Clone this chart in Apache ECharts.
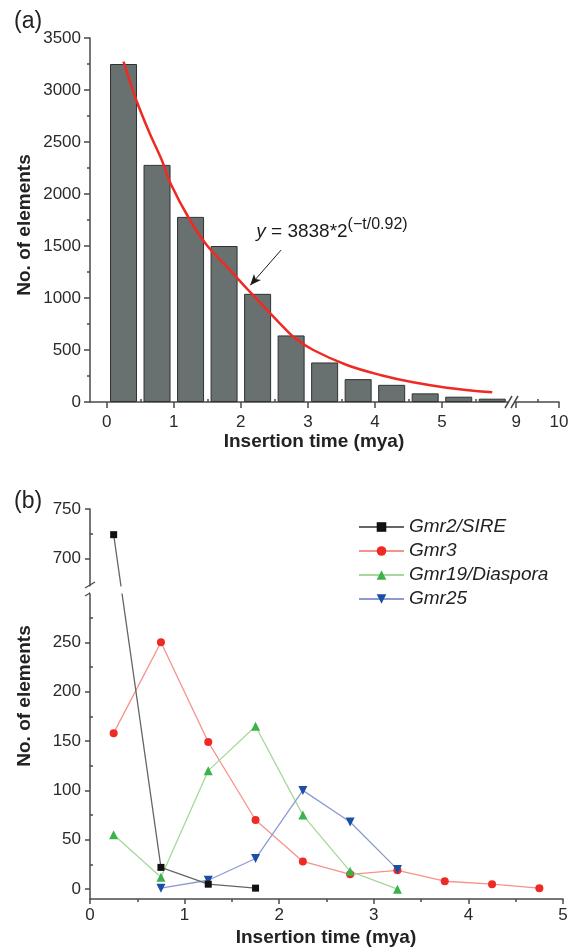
<!DOCTYPE html>
<html><head><meta charset="utf-8">
<script src="https://cdn.jsdelivr.net/npm/echarts@6/dist/echarts.min.js"></script>
<style>html,body{margin:0;padding:0;background:#fff}#c{width:574px;height:950px}</style>
</head><body><div id="c"></div>
<script>
// ---------- Panel (a) data ----------
const binCenters = [0.25, 0.75, 1.25, 1.75, 2.25, 2.75, 3.25, 3.75, 4.25, 4.75, 5.25, 5.75];
const elementCounts = [3250, 2280, 1780, 1500, 1040, 640, 380, 220, 165, 83, 51, 32];
// fitted curve, points
const fitT = [0.25, 0.44, 0.64, 0.82, 0.95, 1.24, 1.49, 1.79, 2.11, 2.58, 2.81, 3.08, 3.58, 4.08, 4.57, 5.07, 5.75];
const fitY = [3272, 2904, 2584, 2327, 2103, 1750, 1510, 1301, 1077, 757, 612, 500, 356, 260, 189, 138, 93];
const aXTicks = [0, 1, 2, 3, 4, 5];
const aXMinorTicks = [0.5, 1.5, 2.5, 3.5, 4.5, 5.5];
const aXTicksAfterBreak = [9, 10];
const aXMinorAfterBreak = [9.5];
const equationText = ' = 3838*2';
const equationExp = '(\u2212t/0.92)';

// ---------- Panel (b) data ----------
const gmr2T = [0.25, 0.75, 1.25, 1.75];
const gmr2 = [724, 22, 5, 1];
const gmr3T = [0.25, 0.75, 1.25, 1.75, 2.25, 2.75, 3.25, 3.75, 4.25, 4.75];
const gmr3 = [158, 250, 149, 70, 28, 15, 19, 8, 5, 1];
const gmr19T = [0.25, 0.75, 1.25, 1.75, 2.25, 2.75, 3.25];
const gmr19 = [55, 12, 120, 165, 75, 18, 0];
const gmr25T = [0.75, 1.25, 1.75, 2.25, 2.75, 3.25];
const gmr25 = [1, 9, 31, 100, 68, 20];
const bYTicks = [0, 50, 100, 150, 200, 250, 700, 750];
const bYMinorTicks = [25, 75, 125, 175, 225, 275, 725];
const seriesNames = ['Gmr2/SIRE', 'Gmr3', 'Gmr19/Diaspora', 'Gmr25'];

const zip = (a, b) => a.map((v, i) => [v, b[i]]);
const FONT = '"Liberation Sans", Arial, sans-serif';
const AX = '#4a4a4a';
const LBL = '#2a2a2a';
const plain = v => String(v);

const axisLine = { show: true, onZero: false, lineStyle: { color: AX, width: 1.5 } };
const tickStyle = { color: AX, width: 1.5 };

const chart = echarts.init(document.getElementById('c'), null, { renderer: 'canvas' });

const option = {
  animation: false,
  backgroundColor: '#fff',
  textStyle: { fontFamily: FONT },
  grid: [
    { left: 90, top: 38, width: 419, height: 364, containLabel: false },
    { left: 514, top: 38, width: 45, height: 364, containLabel: false },
    { left: 90, top: 509, width: 473, height: 390, containLabel: false }
  ],
  xAxis: [
    { gridIndex: 0, type: 'value', min: -0.25, max: 6, axisLine,
      axisTick: { show: true, inside: false, length: 6, lineStyle: tickStyle, customValues: aXTicks },
      axisLabel: { show: true, customValues: aXTicks, fontSize: 17, color: LBL, margin: 12, fontFamily: FONT, formatter: plain },
      splitLine: { show: false } },
    { gridIndex: 0, type: 'value', min: -0.25, max: 6, axisLine: { show: false },
      axisTick: { show: true, inside: false, length: 3, lineStyle: tickStyle, customValues: aXMinorTicks },
      axisLabel: { show: false }, splitLine: { show: false } },
    { gridIndex: 1, type: 'value', min: 8.95, max: 10, axisLine,
      axisTick: { show: true, inside: false, length: 6, lineStyle: tickStyle, customValues: aXTicksAfterBreak },
      axisLabel: { show: true, customValues: aXTicksAfterBreak, fontSize: 17, color: LBL, margin: 12, fontFamily: FONT, formatter: plain },
      splitLine: { show: false } },
    { gridIndex: 1, type: 'value', min: 8.95, max: 10, axisLine: { show: false },
      axisTick: { show: true, inside: false, length: 3, lineStyle: tickStyle, customValues: aXMinorAfterBreak },
      axisLabel: { show: false }, splitLine: { show: false } },
    { gridIndex: 2, type: 'value', min: 0, max: 5, interval: 1, axisLine,
      axisTick: { show: true, inside: false, length: 5, lineStyle: tickStyle },
      minorTick: { show: true, splitNumber: 2, length: 3, lineStyle: tickStyle },
      axisLabel: { show: true, fontSize: 17, color: LBL, margin: 8, fontFamily: FONT, formatter: plain },
      splitLine: { show: false } }
  ],
  yAxis: [
    { gridIndex: 0, type: 'value', min: 0, max: 3500, interval: 500, axisLine,
      axisTick: { show: true, inside: false, length: 6, lineStyle: tickStyle },
      minorTick: { show: true, splitNumber: 2, length: 3, lineStyle: tickStyle },
      axisLabel: { fontSize: 17, color: LBL, margin: 9, fontFamily: FONT, formatter: plain },
      splitLine: { show: false } },
    { gridIndex: 1, type: 'value', min: 0, max: 3500, show: false },
    { gridIndex: 2, type: 'value', min: -10, max: 750, axisLine,
      breaks: [{ start: 300, end: 672, gap: 7 }],
      breakArea: { show: true, itemStyle: { color: '#fff', borderColor: '#fff', borderWidth: 0, opacity: 1 }, zigzagAmplitude: 0, expandOnClick: false },
      axisTick: { show: true, inside: false, length: 5, lineStyle: tickStyle, customValues: bYTicks },
      axisLabel: { show: true, customValues: bYTicks, fontSize: 17, color: LBL, margin: 9, fontFamily: FONT, formatter: plain },
      splitLine: { show: false } },
    { gridIndex: 2, type: 'value', min: -10, max: 750, axisLine: { show: false },
      breaks: [{ start: 300, end: 672, gap: 7 }],
      breakArea: { show: false },
      axisTick: { show: true, inside: false, length: 3, lineStyle: tickStyle, customValues: bYMinorTicks },
      axisLabel: { show: false }, splitLine: { show: false } }
  ],
  legend: {
    orient: 'vertical', left: 358, top: 517, z: 300, padding: 0,
    itemWidth: 45, itemHeight: 12, itemGap: 4,
    textStyle: { fontSize: 19, fontStyle: 'italic', color: '#222', fontFamily: FONT, lineHeight: 20 },
    data: seriesNames
  },
  series: [
    { type: 'bar', xAxisIndex: 0, yAxisIndex: 0, barWidth: 27, data: zip(binCenters, elementCounts),
      itemStyle: { color: '#68716f', borderColor: '#2e3333', borderWidth: 1 }, z: 2 },
    { type: 'line', xAxisIndex: 0, yAxisIndex: 0, smooth: 0.35, showSymbol: false, data: zip(fitT, fitY),
      lineStyle: { color: '#ee2a22', width: 2.5 }, z: 3,
      markLine: { silent: true, symbol: ['none', 'arrow'], symbolSize: [7, 11], label: { show: false },
        lineStyle: { color: '#1a1a1a', width: 1, type: 'solid' },
        data: [[{ coord: [2.6, 1461] }, { coord: [2.14, 1122] }]] },
      markPoint: { silent: true, symbol: 'circle', symbolSize: 0,
        data: [{ coord: [2.17, 1640],
          label: { show: true, position: 'right', distance: 4, color: '#1a1a1a', fontFamily: FONT,
            formatter: '{i|y}{m|' + equationText + '}{s|' + equationExp + '}',
            rich: {
              i: { fontSize: 19, fontStyle: 'italic', fontFamily: FONT, color: '#1a1a1a' },
              m: { fontSize: 19, fontFamily: FONT, color: '#1a1a1a' },
              s: { fontSize: 16, fontFamily: FONT, color: '#1a1a1a', padding: [0, 0, 14, 0] }
            } } }] } },
    { name: seriesNames[0], type: 'line', xAxisIndex: 4, yAxisIndex: 2, data: zip(gmr2T, gmr2),
      symbol: 'rect', symbolSize: 7, itemStyle: { color: '#111' }, lineStyle: { color: '#666', width: 1.3 }, z: 5 },
    { name: seriesNames[1], type: 'line', xAxisIndex: 4, yAxisIndex: 2, data: zip(gmr3T, gmr3),
      symbol: 'circle', symbolSize: 8, itemStyle: { color: '#ee2a24' }, lineStyle: { color: '#f4938a', width: 1.3 }, z: 4 },
    { name: seriesNames[2], type: 'line', xAxisIndex: 4, yAxisIndex: 2, data: zip(gmr19T, gmr19),
      symbol: 'triangle', symbolSize: 9, itemStyle: { color: '#3cb34a' }, lineStyle: { color: '#a6d89c', width: 1.3 }, z: 4 },
    { name: seriesNames[3], type: 'line', xAxisIndex: 4, yAxisIndex: 2, data: zip(gmr25T, gmr25),
      symbol: 'triangle', symbolRotate: 180, symbolSize: 9, itemStyle: { color: '#1d4ea6' }, lineStyle: { color: '#8d9ad2', width: 1.3 }, z: 4 }
  ],
  graphic: [
    { type: 'text', left: 14, top: 10, style: { text: '(a)', font: '23px ' + FONT, fill: '#222' } },
    { type: 'text', left: 14, top: 490, style: { text: '(b)', font: '23px ' + FONT, fill: '#222' } },
    { type: 'text', x: 25, y: 225, rotation: Math.PI / 2, style: { text: 'No. of elements', font: 'bold 19px ' + FONT, fill: '#222', align: 'center', verticalAlign: 'middle' } },
    { type: 'text', x: 25, y: 696, rotation: Math.PI / 2, style: { text: 'No. of elements', font: 'bold 19px ' + FONT, fill: '#222', align: 'center', verticalAlign: 'middle' } },
    { type: 'text', x: 314, y: 442, style: { text: 'Insertion time (mya)', font: 'bold 19px ' + FONT, fill: '#222', align: 'center', verticalAlign: 'middle' } },
    { type: 'text', x: 326, y: 938, style: { text: 'Insertion time (mya)', font: 'bold 19px ' + FONT, fill: '#222', align: 'center', verticalAlign: 'middle' } },
    // axis break marks (a)
    { type: 'rect', shape: { x: 509, y: 396, width: 5, height: 12 }, style: { fill: '#fff' }, z: 50 },
    { type: 'line', shape: { x1: 505, y1: 408, x2: 512, y2: 396 }, style: { stroke: AX, lineWidth: 1.5 }, z: 51 },
    { type: 'line', shape: { x1: 511, y1: 408, x2: 518, y2: 396 }, style: { stroke: AX, lineWidth: 1.5 }, z: 51 },
    // axis break marks (b)
    { type: 'line', shape: { x1: 85, y1: 588, x2: 95, y2: 582 }, style: { stroke: AX, lineWidth: 1.3 }, z: 51 },
    { type: 'line', shape: { x1: 85, y1: 596, x2: 95, y2: 590 }, style: { stroke: AX, lineWidth: 1.3 }, z: 51 }
  ]
};
chart.setOption(option);
</script>
</body></html>
